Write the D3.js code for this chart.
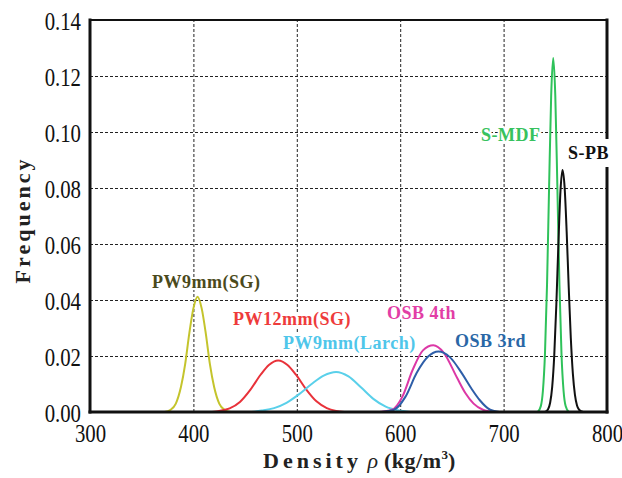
<!DOCTYPE html>
<html>
<head>
<meta charset="utf-8">
<script src="https://cdn.jsdelivr.net/npm/d3@7"></script>
<style>
body { margin: 0; background: #fff; }
svg { display: block; }
</style>
</head>
<body>
<div class="container"></div>
<script>
// Curves: [density, frequency]
const pw9SG = [[372,0],[378,0.0008],[383,0.003],[388,0.009],[392,0.017],[396,0.028],[400,0.037],[404,0.0412],[408,0.037],[412,0.028],[416,0.017],[420,0.009],[425,0.003],[430,0.0008],[436,0]];
const pw12SG = [[418,0],[425,0.0004],[435,0.0013],[445,0.0036],[455,0.0079],[465,0.0133],[473,0.0168],[482,0.0184],[491,0.0168],[499,0.0134],[509,0.0081],[519,0.0038],[529,0.0014],[538,0.0004],[546,0]];
const pw9Larch = [[456,0],[466,0.0005],[478,0.0014],[490,0.0033],[502,0.0063],[514,0.0099],[526,0.0130],[538,0.0143],[550,0.0127],[562,0.0088],[574,0.0047],[586,0.0019],[598,0.0006],[610,0]];
const osb4th = [[580,0],[592,0.0008],[602,0.0054],[612,0.0150],[622,0.0220],[632,0.0238],[642,0.0212],[655,0.0122],[663,0.0068],[671,0.0030],[680,0.0008],[690,0]];
const osb3rd = [[582,0],[594,0.0008],[605,0.0054],[616,0.0140],[627,0.0198],[637,0.0216],[648,0.0196],[660,0.0136],[669,0.0083],[677,0.0042],[687,0.0008],[696,0]];
const sMDF = [[733,0],[736,0.0021],[738,0.0075],[740,0.0206],[742,0.0455],[744,0.0804],[746,0.1129],[748,0.1264],[750,0.1129],[752,0.0804],[754,0.0455],[756,0.0206],[758,0.0075],[760,0.0021],[763,0]];
const sPB = [[740,0],[743,0.0010],[745,0.0033],[747,0.0090],[749,0.0203],[751,0.0383],[753,0.0601],[755,0.0789],[757,0.0864],[759,0.0803],[761,0.0643],[763,0.0444],[765,0.0264],[767,0.0136],[769,0.0061],[771,0.0023],[773,0.0008],[777,0]];

const seriesNames = ["PW9mm(SG)", "PW12mm(SG)", "PW9mm(Larch)", "OSB 4th", "OSB 3rd", "S-MDF", "S-PB"];
const xTicks = [300, 400, 500, 600, 700, 800];
const yTicks = [0, 0.02, 0.04, 0.06, 0.08, 0.10, 0.12, 0.14];

// Dimensions
const w = 622;
const h = 478;
const pLeft = 90, pRight = 607, pTop = 20, pBottom = 412;

// Styles and label spots (pixels)
const series = [
  {name: seriesNames[0], data: pw9SG, color: "#c4c42c", text: "#4b4a1c", lx: 152, ly: 288},
  {name: seriesNames[1], data: pw12SG, color: "#e8323a", text: "#ee3b3b", lx: 233, ly: 325},
  {name: seriesNames[2], data: pw9Larch, color: "#5ad0ea", text: "#4fc6ea", lx: 283, ly: 349},
  {name: seriesNames[3], data: osb4th, color: "#dc38a6", text: "#e23ea6", lx: 387, ly: 319},
  {name: seriesNames[4], data: osb3rd, color: "#2e5ea8", text: "#2a67a6", lx: 455, ly: 347},
  {name: seriesNames[5], data: sMDF, color: "#2fc25a", text: "#37c25e", lx: 481, ly: 141},
  {name: seriesNames[6], data: sPB, color: "#111111", text: "#111111", lx: 568, ly: 159}
];

// Create scales
const xScale = d3.scaleLinear().domain([300, 800]).range([pLeft, pRight]);
const yScale = d3.scaleLinear().domain([0, 0.14]).range([pBottom, pTop]);

// Create SVG container
const svg = d3.select(".container")
  .append("svg")
  .attr("width", w)
  .attr("height", h)
  .style("background", "#fff");

// Dashed grid
svg.append("g")
  .attr("transform", `translate(${pLeft},0)`)
  .call(d3.axisLeft(yScale).tickValues(yTicks.filter(t => t > 0 && t < 0.14)).tickSize(-(pRight - pLeft)).tickFormat(""))
  .call(g => g.select(".domain").remove())
  .selectAll("line")
  .attr("stroke", "#222")
  .attr("stroke-width", 1)
  .attr("stroke-dasharray", "3,2");

svg.append("g")
  .attr("transform", `translate(0,${pBottom})`)
  .call(d3.axisBottom(xScale).tickValues(xTicks.filter(t => t > 300 && t < 800)).tickSize(-(pBottom - pTop)).tickFormat(""))
  .call(g => g.select(".domain").remove())
  .selectAll("line")
  .attr("stroke", "#222")
  .attr("stroke-width", 1)
  .attr("stroke-dasharray", "3,2");

// Curves
const line = d3.line()
  .x(d => xScale(d[0]))
  .y(d => yScale(d[1]))
  .curve(d3.curveMonotoneX);

svg.append("g")
  .selectAll("path")
  .data(series)
  .enter()
  .append("path")
  .attr("d", d => line(d.data))
  .attr("fill", "none")
  .attr("stroke", d => d.color)
  .attr("stroke-width", 2)
  .attr("stroke-linejoin", "round");

// Frame
const frame = svg.append("g").attr("stroke", "#111").attr("stroke-linecap", "square");
frame.append("line").attr("x1", pLeft).attr("x2", pLeft).attr("y1", pTop).attr("y2", pBottom).attr("stroke-width", 3);
frame.append("line").attr("x1", pLeft).attr("x2", pRight).attr("y1", pBottom).attr("y2", pBottom).attr("stroke-width", 3);
frame.append("line").attr("x1", pLeft).attr("x2", pRight).attr("y1", pTop).attr("y2", pTop).attr("stroke-width", 2);
frame.append("line").attr("x1", pRight).attr("x2", pRight).attr("y1", pTop).attr("y2", pBottom).attr("stroke-width", 3);

// Tick labels (narrow serif)
const sx = 0.8;
svg.append("g")
  .attr("transform", `translate(${pLeft},0)`)
  .call(d3.axisLeft(yScale).tickValues(yTicks).tickSize(0).tickFormat(d3.format(".2f")))
  .call(g => g.select(".domain").remove())
  .selectAll("text")
  .attr("x", -9 / sx)
  .attr("dy", "0.35em")
  .attr("transform", `scale(${sx},1)`)
  .style("font-family", "'Liberation Serif', serif")
  .style("font-size", "26px")
  .attr("fill", "#111");

svg.append("g")
  .attr("transform", `translate(0,${pBottom})`)
  .call(d3.axisBottom(xScale).tickValues(xTicks).tickSize(0))
  .call(g => g.select(".domain").remove())
  .selectAll("text")
  .attr("x", 0)
  .attr("y", 30)
  .attr("dy", 0)
  .attr("transform", `scale(${sx},1)`)
  .style("font-family", "'Liberation Serif', serif")
  .style("font-size", "26px")
  .attr("fill", "#111");

// Series labels
const labels = svg.append("g")
  .attr("class", "labels")
  .selectAll("text")
  .data(series)
  .enter()
  .append("text")
  .attr("x", d => d.lx)
  .attr("y", d => d.ly)
  .attr("fill", d => d.text)
  .attr("stroke", "#fff")
  .attr("stroke-width", 4)
  .attr("paint-order", "stroke")
  .style("font-family", "'Liberation Serif', serif")
  .style("font-weight", "bold")
  .style("font-size", "18px")
  .style("letter-spacing", "0.5px")
  .text(d => d.name);

// Gap in right border behind S-PB
labels.filter(d => d.name === "S-PB").each(function() {
  const b = this.getBBox();
  svg.select("g.labels").insert("rect", "text")
    .attr("x", b.x - 2)
    .attr("y", b.y - 4)
    .attr("width", b.width + 8)
    .attr("height", b.height + 8)
    .attr("fill", "#fff");
});

// Axis titles
svg.append("text")
  .attr("transform", `translate(30,${(pTop + pBottom) / 2 + 4}) rotate(-90)`)
  .attr("text-anchor", "middle")
  .style("font-family", "'Liberation Serif', serif")
  .style("font-weight", "bold")
  .style("font-size", "22px")
  .style("letter-spacing", "3px")
  .attr("fill", "#222")
  .text("Frequency");

const xTitle = svg.append("text")
  .attr("x", 263)
  .attr("y", 468)
  .style("font-family", "'Liberation Serif', serif")
  .style("font-weight", "bold")
  .style("font-size", "22px")
  .attr("fill", "#222");
xTitle.append("tspan").style("letter-spacing", "4px").text("Density");
xTitle.append("tspan").text(" ");
xTitle.append("tspan").style("font-weight", "normal").style("font-style", "italic").text("ρ");
xTitle.append("tspan").style("letter-spacing", "0.5px").text(" (kg/m");
xTitle.append("tspan").attr("dy", -9).style("font-size", "13px").text("3");
xTitle.append("tspan").attr("dy", 9).text(")");
</script>
</body>
</html>
